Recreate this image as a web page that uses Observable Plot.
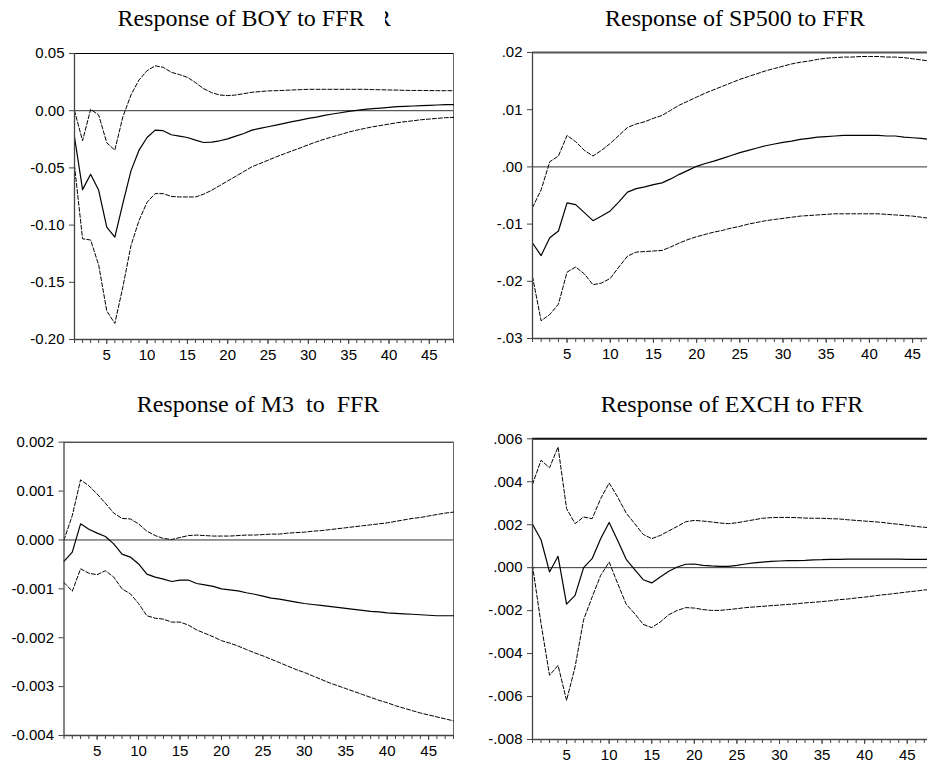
<!DOCTYPE html>
<html>
<head>
<meta charset="utf-8">
<script src="https://cdn.jsdelivr.net/npm/d3@7"></script>
<script src="https://cdn.jsdelivr.net/npm/@observablehq/plot@0.6"></script>
<style>
  html, body { margin: 0; padding: 0; background: #fff; }
  #wrap { position: relative; width: 927px; height: 769px; overflow: hidden; background: #fff; }
  .ttl { position: absolute; font-family: "Liberation Serif", "Times New Roman", serif; font-size: 24px; line-height: 24px; color: #000; text-align: center; white-space: pre; }
  .pnl { position: absolute; }
</style>
</head>
<body>
<div id="wrap"></div>
<script>
const periods = [1,2,3,4,5,6,7,8,9,10,11,12,13,14,15,16,17,18,19,20,21,22,23,24,25,26,27,28,29,30,31,32,33,34,35,36,37,38,39,40,41,42,43,44,45,46,47,48];
const xLabelTicks = [5,10,15,20,25,30,35,40,45];

// Panel titles
const titles = ["Response of BOY to FFR", "Response of SP500 to FFR", "Response of M3  to  FFR", "Response of EXCH to FFR"];

// BOY
const boyResp = [-0.023,-0.069,-0.0556,-0.0696,-0.1018,-0.1105,-0.081,-0.0526,-0.0345,-0.0234,
  -0.017,-0.0175,-0.021,-0.0222,-0.0234,-0.0257,-0.0278,-0.0275,-0.0263,-0.0246,
  -0.0222,-0.0199,-0.017,-0.0155,-0.014,-0.0126,-0.0111,-0.0096,-0.0082,-0.0067,
  -0.0056,-0.0041,-0.0029,-0.0018,-0.0006,0.0003,0.0012,0.0018,0.0023,0.0029,
  0.0035,0.0038,0.0041,0.0044,0.0047,0.005,0.0053,0.0053];
const boyHi = [0.000,-0.0263,0.0012,-0.0038,-0.028,-0.0345,-0.0053,0.0137,0.0269,0.035,
  0.0392,0.038,0.0336,0.0316,0.0292,0.0246,0.0193,0.0158,0.0137,0.0132,
  0.0137,0.0149,0.0161,0.0167,0.0173,0.0175,0.0178,0.0181,0.0184,0.0187,
  0.0187,0.0187,0.0187,0.0187,0.0187,0.0187,0.0187,0.0184,0.0183,0.0181,
  0.018,0.0178,0.0177,0.0177,0.0176,0.0175,0.0175,0.0175];
const boyLo = [-0.048,-0.112,-0.113,-0.135,-0.175,-0.186,-0.154,-0.118,-0.096,-0.080,
  -0.0725,-0.0725,-0.0749,-0.0754,-0.0754,-0.0754,-0.073,-0.0696,-0.0655,-0.0614,
  -0.0573,-0.0532,-0.049,-0.0462,-0.0433,-0.0404,-0.0377,-0.0351,-0.0325,-0.0298,
  -0.0272,-0.0249,-0.0228,-0.0208,-0.0187,-0.017,-0.0155,-0.014,-0.0129,-0.0117,
  -0.0105,-0.0096,-0.0088,-0.0079,-0.0073,-0.0067,-0.0061,-0.0058];
const boyTicks = [0.05,0.00,-0.05,-0.10,-0.15,-0.20];
const boyTickLabels = ["0.05","0.00","-0.05","-0.10","-0.15","-0.20"];

// SP500
const spResp = [-0.0133,-0.0155,-0.0124,-0.0112,-0.0063,-0.0066,-0.008,-0.0094,-0.0086,-0.0077,
  -0.0061,-0.0044,-0.0038,-0.0035,-0.0031,-0.0028,-0.0021,-0.0013,-0.0006,0.0001,
  0.0006,0.001,0.0015,0.002,0.0025,0.0029,0.0033,0.0037,0.004,0.0043,
  0.0045,0.0048,0.005,0.0052,0.0053,0.0054,0.0055,0.0055,0.0055,0.0055,
  0.0055,0.0054,0.0054,0.0052,0.0051,0.005,0.0048,0.0047];
const spHi = [-0.0071,-0.004,0.0009,0.0019,0.0055,0.0044,0.0029,0.0019,0.0029,0.0041,
  0.0055,0.0069,0.0075,0.0079,0.0085,0.009,0.0099,0.0108,0.0115,0.0122,
  0.0129,0.0135,0.0141,0.0147,0.0153,0.0158,0.0163,0.0168,0.0172,0.0176,
  0.018,0.0183,0.0185,0.0188,0.019,0.0191,0.0192,0.0192,0.0193,0.0193,
  0.0193,0.0192,0.0192,0.0191,0.0189,0.0187,0.0185,0.0184];
const spLo = [-0.0192,-0.0269,-0.0258,-0.024,-0.0184,-0.0175,-0.0187,-0.0206,-0.0203,-0.0195,
  -0.0175,-0.0156,-0.0149,-0.0148,-0.0147,-0.0146,-0.014,-0.0133,-0.0127,-0.0122,
  -0.0118,-0.0114,-0.0111,-0.0107,-0.0104,-0.01,-0.0097,-0.0094,-0.0092,-0.009,
  -0.0088,-0.0086,-0.0085,-0.0084,-0.0083,-0.0082,-0.0082,-0.0082,-0.0082,-0.0082,
  -0.0082,-0.0083,-0.0084,-0.0085,-0.0086,-0.0088,-0.009,-0.0091];
const spTicks = [0.02,0.01,0.00,-0.01,-0.02,-0.03];
const spTickLabels = [".02",".01",".00","-.01","-.02","-.03"];

// M3
const m3Resp = [-0.00044,-0.00025,0.00033,0.00022,0.00014,0.00007,-0.00008,-0.00029,-0.00035,-0.00049,
  -0.0007,-0.00076,-0.0008,-0.00085,-0.00082,-0.00082,-0.00089,-0.00092,-0.00095,-0.001,
  -0.00102,-0.00104,-0.00108,-0.00111,-0.00115,-0.00119,-0.00121,-0.00124,-0.00127,-0.0013,
  -0.00132,-0.00134,-0.00136,-0.00138,-0.0014,-0.00142,-0.00144,-0.00146,-0.00147,-0.00149,
  -0.0015,-0.00151,-0.00152,-0.00153,-0.00154,-0.00155,-0.00155,-0.00155];
const m3Hi = [0.0000,0.0005,0.00123,0.00111,0.00094,0.00075,0.00055,0.00044,0.00043,0.00033,
  0.00018,0.00009,0.00003,0.00001,0.00005,0.00009,0.0001,0.00009,0.00008,0.00008,
  0.00008,0.00009,0.0001,0.0001,0.00011,0.00012,0.00012,0.00014,0.00015,0.00016,
  0.00018,0.00019,0.00021,0.00023,0.00025,0.00027,0.00029,0.00031,0.00033,0.00035,
  0.00038,0.00041,0.00044,0.00046,0.00049,0.00052,0.00055,0.00057];
const m3Lo = [-0.00087,-0.00105,-0.00059,-0.00068,-0.00071,-0.00063,-0.00076,-0.001,-0.0011,-0.0013,
  -0.00155,-0.0016,-0.00162,-0.00168,-0.00168,-0.00174,-0.00184,-0.00191,-0.00198,-0.00206,
  -0.00211,-0.00217,-0.00224,-0.00231,-0.00237,-0.00244,-0.00251,-0.00258,-0.00265,-0.00271,
  -0.00278,-0.00285,-0.00292,-0.00298,-0.00304,-0.0031,-0.00316,-0.00322,-0.00328,-0.00333,
  -0.00339,-0.00344,-0.00349,-0.00354,-0.00358,-0.00362,-0.00366,-0.0037];
const m3Ticks = [0.002,0.001,0.000,-0.001,-0.002,-0.003,-0.004];
const m3TickLabels = ["0.002","0.001","0.000","-0.001","-0.002","-0.003","-0.004"];

// EXCH
const exResp = [0.00202,0.0013,-0.0002,0.00053,-0.0017,-0.00129,0.0,0.00042,0.00135,0.0021,
  0.00127,0.00039,-0.00009,-0.00056,-0.00071,-0.00043,-0.00017,0.00003,0.00016,0.00017,
  0.00011,0.00008,0.00006,0.00006,0.00011,0.00017,0.00022,0.00026,0.00029,0.00031,
  0.00033,0.00033,0.00034,0.00036,0.00037,0.00039,0.00039,0.0004,0.0004,0.0004,
  0.0004,0.0004,0.0004,0.0004,0.00039,0.00039,0.00039,0.00039];
const exHi = [0.00388,0.005,0.00465,0.00562,0.00275,0.00205,0.00236,0.00228,0.00321,0.00394,
  0.00329,0.00254,0.00205,0.00155,0.00135,0.0015,0.00171,0.00192,0.00214,0.0022,
  0.00217,0.00213,0.00208,0.00205,0.00209,0.00216,0.00223,0.0023,0.00233,0.00234,
  0.00234,0.00233,0.00231,0.0023,0.0023,0.00228,0.00227,0.00223,0.0022,0.00217,
  0.00214,0.00211,0.00206,0.00202,0.00197,0.00192,0.00188,0.00185];
const exLo = [0.0001,-0.0026,-0.00501,-0.00455,-0.00618,-0.00462,-0.00242,-0.00137,-0.00036,0.00026,
  -0.00074,-0.0017,-0.00214,-0.00264,-0.00279,-0.00253,-0.00219,-0.00199,-0.00186,-0.00188,
  -0.00195,-0.00199,-0.00199,-0.00195,-0.00191,-0.00186,-0.00183,-0.0018,-0.00177,-0.00174,
  -0.00171,-0.00168,-0.00164,-0.00161,-0.00158,-0.00154,-0.00149,-0.00146,-0.00141,-0.00137,
  -0.00132,-0.00127,-0.00123,-0.00118,-0.00113,-0.00109,-0.00104,-0.00101];
const exTicks = [0.006,0.004,0.002,0.000,-0.002,-0.004,-0.006,-0.008];
const exTickLabels = [".006",".004",".002",".000","-.002","-.004","-.006","-.008"];

const wrap = document.getElementById("wrap");

function panel(cfg) {
  const rows = periods.map((p, i) => ({p, resp: cfg.resp[i], lo: cfg.lo[i], hi: cfg.hi[i]}));
  const yMin = d3.min(cfg.ticks), yMax = d3.max(cfg.ticks);
  const labelOf = v => cfg.labels[cfg.ticks.findIndex(t => Math.abs(t - v) < 1e-12)];
  const chart = Plot.plot({
    width: cfg.width,
    height: cfg.height,
    marginLeft: cfg.ml, marginRight: cfg.mr, marginTop: cfg.mt, marginBottom: cfg.mb,
    x: {domain: [1, 48]},
    y: {domain: [yMin, yMax]},
    style: {fontFamily: "'Liberation Sans', Arial, sans-serif", fontSize: "15px", color: "#000", background: "transparent", overflow: "visible"},
    marks: [
      Plot.ruleY([0], {stroke: "#333", strokeWidth: 1}),
      Plot.ruleY([yMax], {stroke: cfg.topColor, strokeWidth: cfg.topWidth}),
      Plot.ruleX([48], {stroke: "#666", strokeWidth: 1}),
      Plot.line(rows, {x: "p", y: "hi", stroke: "#000", strokeWidth: 1, strokeDasharray: "4,2"}),
      Plot.line(rows, {x: "p", y: "lo", stroke: "#000", strokeWidth: 1, strokeDasharray: "4,2"}),
      Plot.line(rows, {x: "p", y: "resp", stroke: "#000", strokeWidth: 1.2}),
      Plot.ruleX([1], {stroke: "#444", strokeWidth: 1.3}),
      Plot.ruleY([yMin], {stroke: "#444", strokeWidth: 1.3}),
      Plot.axisY({ticks: cfg.ticks, tickFormat: labelOf, tickSize: 5, tickPadding: 5, stroke: "#444", fill: "#000", label: null}),
      Plot.axisX({ticks: periods, tickFormat: () => "", tickSize: 4, stroke: "#444", label: null}),
      Plot.axisX({ticks: xLabelTicks, tickFormat: d => String(d), tickSize: 5, tickPadding: 5, stroke: "#444", fill: "#000", label: null})
    ]
  });
  chart.classList.add("pnl");
  chart.style.left = cfg.left + "px";
  chart.style.top = cfg.top + "px";
  wrap.appendChild(chart);

  const t = document.createElement("div");
  t.className = "ttl";
  t.textContent = cfg.title;
  t.style.left = cfg.titleLeft + "px";
  t.style.width = cfg.titleWidth + "px";
  t.style.top = cfg.titleTop + "px";
  wrap.appendChild(t);
}

panel({title: titles[0], titleLeft: 0, titleWidth: 482, titleTop: 6,
  resp: boyResp, lo: boyLo, hi: boyHi, ticks: boyTicks, labels: boyTickLabels,
  left: 0, top: 0, width: 470, height: 370, ml: 74, mr: 17, mt: 53, mb: 31, topColor: "#000", topWidth: 1});
panel({title: titles[1], titleLeft: 460 + 72 - 200, titleWidth: 406 + 400, titleTop: 6,
  resp: spResp, lo: spLo, hi: spHi, ticks: spTicks, labels: spTickLabels,
  left: 460, top: 0, width: 490, height: 370, ml: 72, mr: 12, mt: 52, mb: 32, topColor: "#555", topWidth: 2});
panel({title: titles[2], titleLeft: 0, titleWidth: 516, titleTop: 392,
  resp: m3Resp, lo: m3Lo, hi: m3Hi, ticks: m3Ticks, labels: m3TickLabels,
  left: 0, top: 380, width: 470, height: 389, ml: 63.5, mr: 17, mt: 61.7, mb: 34, topColor: "#000", topWidth: 1});
panel({title: titles[3], titleLeft: 460 + 72 - 200, titleWidth: 400 + 400, titleTop: 392,
  resp: exResp, lo: exLo, hi: exHi, ticks: exTicks, labels: exTickLabels,
  left: 460, top: 380, width: 490, height: 389, ml: 72, mr: 17.7, mt: 58.3, mb: 30, topColor: "#111", topWidth: 2});

// clipped trailing glyph after the first title
const g = document.createElement("div");
g.className = "ttl";
g.style.left = "385px"; g.style.top = "6px"; g.style.width = "6px"; g.style.overflow = "hidden"; g.style.textAlign = "left";
const gs = document.createElement("span");
gs.style.marginLeft = "-10px"; gs.style.display = "inline-block";
gs.textContent = "R";
g.appendChild(gs);
wrap.appendChild(g);
</script>
</body>
</html>
